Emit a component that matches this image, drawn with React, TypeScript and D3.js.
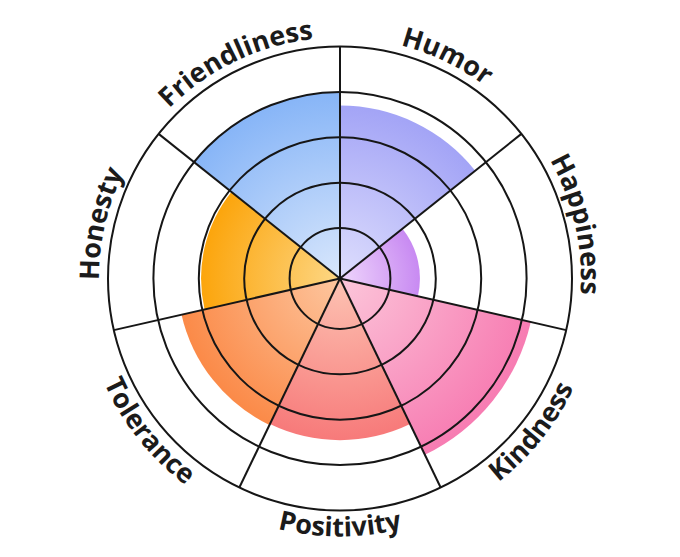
import React from 'react';
import * as d3 from 'd3';

const categories = ['Humor', 'Happiness', 'Kindness', 'Positivity', 'Tolerance', 'Honesty', 'Friendliness'];
const values = [3.7, 1.65, 4.2, 3.45, 3.47, 2.95, 4.0];
const outerColors = ['#a3a4f6', '#c88af2', '#f77cb2', '#f77a7a', '#fb8a48', '#fca50c', '#87b5f7'];
const innerColors = ['#dedefd', '#efd6fc', '#fcc6da', '#fdc3b3', '#fdc69f', '#fdd785', '#d9e7fc'];
const ringTicks = [1, 2, 3, 4, 5];

export default function App() {
  const W = 680;
  const H = 557;
  const cx = 340;
  const cy = 278.5;
  const r = d3.scaleLinear().domain([0, 5]).range([5, 232]);
  const n = categories.length;
  const step = (2 * Math.PI) / n;
  const arc = d3.arc<any>();
  const outerR = r(5);

  const pt = (a: number, rad: number) => [cx + rad * Math.sin(a), cy - rad * Math.cos(a)];

  const labelPath = (mid: number, rad: number, top: boolean) => {
    const span = 1.0;
    if (top) {
      const [x0, y0] = pt(mid - span, rad);
      const [x1, y1] = pt(mid + span, rad);
      return `M${x0},${y0} A${rad},${rad} 0 0 1 ${x1},${y1}`;
    }
    const [x0, y0] = pt(mid + span, rad);
    const [x1, y1] = pt(mid - span, rad);
    return `M${x0},${y0} A${rad},${rad} 0 0 0 ${x1},${y1}`;
  };

  return (
    <svg width={W} height={H} style={{ position: 'absolute', left: 0, top: 0, display: 'block', background: '#fff' }}>
      <defs>
        {categories.map((c, i) => (
          <radialGradient key={c} id={`g${i}`} gradientUnits="userSpaceOnUse" cx={0} cy={0} r={r(values[i])}>
            <stop offset="0" stopColor={innerColors[i]} />
            <stop offset="1" stopColor={outerColors[i]} />
          </radialGradient>
        ))}
        {categories.map((c, i) => {
          const mid = i * step + step / 2;
          const isTop = Math.cos(mid) > -0.1;
          return <path key={c} id={`lp${i}`} d={labelPath(mid, isTop ? 241 : 258, isTop)} fill="none" />;
        })}
      </defs>
      <g transform={`translate(${cx},${cy})`}>
        {categories.map((c, i) => (
          <path
            key={c}
            d={arc({ innerRadius: 0, outerRadius: r(values[i]), startAngle: i * step, endAngle: (i + 1) * step }) as string}
            fill={`url(#g${i})`}
          />
        ))}
      </g>
      <g fill="none" stroke="#161616" strokeWidth={2}>
        {ringTicks.map((t) => (
          <circle key={t} cx={cx} cy={cy} r={r(t)} />
        ))}
        {categories.map((c, i) => {
          const [x, y] = pt(i * step, outerR);
          return <line key={c} x1={cx} y1={cy} x2={x} y2={y} />;
        })}
      </g>
      <g fontFamily="'Open Sans', sans-serif" fontWeight={700} fontSize={27} fill="#1b1b1b">
        {categories.map((c, i) => (
          <text key={c}>
            <textPath href={`#lp${i}`} startOffset="50%" textAnchor="middle">
              {c}
            </textPath>
          </text>
        ))}
      </g>
    </svg>
  );
}
